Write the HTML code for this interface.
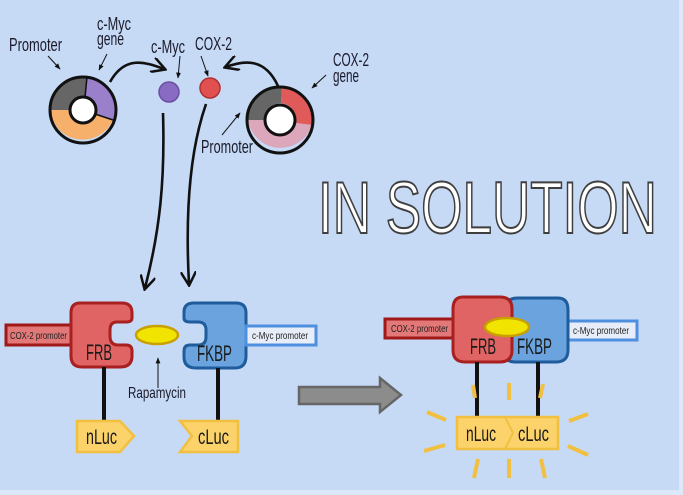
<!DOCTYPE html>
<html><head><meta charset="utf-8"><style>
html,body{margin:0;padding:0;background:#c6d9f5;}
svg{display:block;}
text{font-family:"Liberation Sans",sans-serif;}
</style></head><body>
<svg width="683" height="495" viewBox="0 0 683 495" xmlns="http://www.w3.org/2000/svg">
<defs>
<marker id="ah" viewBox="0 0 10 10" refX="8" refY="5" markerWidth="6" markerHeight="6" orient="auto"><path d="M0,0 L9,5 L0,10" fill="none" stroke="#111" stroke-width="1.6"/></marker>
<marker id="sa" viewBox="0 0 10 10" refX="9" refY="5" markerWidth="6" markerHeight="6" orient="auto"><path d="M0,1 L10,5 L0,9 z" fill="#111"/></marker>
</defs>
<rect width="683" height="495" fill="#c6d9f5"/>
<rect x="679" y="0" width="4" height="495" fill="#dde8f8"/>
<rect x="0" y="490" width="683" height="5" fill="#dde8f8"/>

<g>
<path d="M50,110 A33,33 0 0 1 87,77 L85,97 A13,13 0 0 0 70,110 Z" fill="#666"/>
<path d="M87,77 A33,33 0 0 1 113,120 L95,114 A13,13 0 0 0 85,97 Z" fill="#9a7fcb"/>
<path d="M113,120 A33,33 0 0 1 50,110 L70,110 A13,13 0 0 0 95,114 Z" fill="#f6b06c"/>
<circle cx="83" cy="110" r="33" fill="none" stroke="#111" stroke-width="3"/>
<circle cx="83" cy="110" r="13" fill="#fff" stroke="#111" stroke-width="3"/>
<line x1="87" y1="77" x2="85" y2="97" stroke="#111" stroke-width="1.5"/>
<line x1="113" y1="120" x2="95" y2="114" stroke="#111" stroke-width="1.5"/>
</g>
<g>
<path d="M248,120 A33,33 0 0 1 282,87 L281,103 A17,17 0 0 0 264,120 Z" fill="#666"/>
<path d="M282,87 A33,33 0 0 1 312,125 L296,123 A17,17 0 0 0 281,103 Z" fill="#e05a5a"/>
<path d="M312,125 A33,33 0 0 1 248,120 L264,120 A17,17 0 0 0 296,123 Z" fill="#dca6bb"/>
<circle cx="280" cy="120" r="33" fill="none" stroke="#111" stroke-width="3"/>
<circle cx="280" cy="120" r="15" fill="#fff" stroke="#111" stroke-width="3"/>
</g>
<circle cx="169" cy="92" r="10" fill="#8a6bc4" stroke="#6a50a0" stroke-width="1.5"/>
<circle cx="210" cy="88" r="10" fill="#e05050" stroke="#b03030" stroke-width="1.5"/>
<path d="M110,82 C125,55 145,62 164,69" fill="none" stroke="#111" stroke-width="2.6" marker-end="url(#ah)"/>
<path d="M278,86 C265,58 245,60 226,67" fill="none" stroke="#111" stroke-width="2.6" marker-end="url(#ah)"/>
<path d="M163,113 C165,180 160,230 145,288" fill="none" stroke="#111" stroke-width="2.6" marker-end="url(#ah)"/>
<path d="M206,104 C190,150 185,210 189,284" fill="none" stroke="#111" stroke-width="2.6" marker-end="url(#ah)"/>
<line x1="48" y1="56" x2="60" y2="69" stroke="#111" stroke-width="1" marker-end="url(#sa)"/>
<line x1="107" y1="54" x2="99" y2="70" stroke="#111" stroke-width="1" marker-end="url(#sa)"/>
<line x1="180" y1="56" x2="178" y2="78" stroke="#111" stroke-width="1" marker-end="url(#sa)"/>
<line x1="201" y1="56" x2="208" y2="76" stroke="#111" stroke-width="1" marker-end="url(#sa)"/>
<line x1="326" y1="75" x2="312" y2="88" stroke="#111" stroke-width="1" marker-end="url(#sa)"/>
<line x1="222" y1="135" x2="240" y2="113" stroke="#111" stroke-width="1" marker-end="url(#sa)"/>
<line x1="158" y1="388" x2="158" y2="358" stroke="#111" stroke-width="1" marker-end="url(#sa)"/>

<g font-size="18" fill="#1a1a2a" lengthAdjust="spacingAndGlyphs">
<text x="9" y="51" textLength="53" lengthAdjust="spacingAndGlyphs">Promoter</text>
<text x="97" y="30" textLength="34" lengthAdjust="spacingAndGlyphs">c-Myc</text>
<text x="97" y="45" textLength="27" lengthAdjust="spacingAndGlyphs">gene</text>
<text x="151" y="53" textLength="34" lengthAdjust="spacingAndGlyphs">c-Myc</text>
<text x="195" y="50" textLength="37" lengthAdjust="spacingAndGlyphs">COX-2</text>
<text x="333" y="66" textLength="36" lengthAdjust="spacingAndGlyphs">COX-2</text>
<text x="333" y="82" textLength="26" lengthAdjust="spacingAndGlyphs">gene</text>
<text x="201" y="153" textLength="52" lengthAdjust="spacingAndGlyphs">Promoter</text>
<text x="128" y="398" font-size="16" textLength="58" lengthAdjust="spacingAndGlyphs">Rapamycin</text>
</g>

<text x="318" y="233" font-size="73" textLength="339" lengthAdjust="spacingAndGlyphs" fill="#fff" stroke="#3f3f3f" stroke-width="2">IN SOLUTION</text>

<rect x="6" y="325" width="68" height="20" fill="#e27878" stroke="#a01818" stroke-width="3"/>
<text x="10" y="339" font-size="10" textLength="57" lengthAdjust="spacingAndGlyphs" fill="#222">COX-2 promoter</text>
<path d="M80,303 H122 Q132,303 132,313 V318 Q132,322 126,322 H117 Q110,322 110,330 V336 Q110,345 118,345 H126 Q132,345 132,351 V356 Q132,367 120,367 H82 Q71,367 71,356 V313 Q71,303 80,303 Z" fill="#e06464" stroke="#a82020" stroke-width="3"/>
<text x="86" y="360" font-size="22" textLength="26" lengthAdjust="spacingAndGlyphs" fill="#1a1a1a">FRB</text>
<ellipse cx="157" cy="335" rx="21" ry="9" fill="#f0e400" stroke="#c8a000" stroke-width="2.5"/>
<path d="M194,303 H236 Q246,303 246,313 V356 Q246,368 235,368 H196 Q184,368 184,357 V351 Q184,345 190,345 H198 Q206,345 206,337 V330 Q206,322 198,322 H190 Q184,322 184,318 V312 Q184,303 194,303 Z" fill="#6aa3de" stroke="#1e5c9c" stroke-width="3"/>
<text x="197" y="361" font-size="22" textLength="35" lengthAdjust="spacingAndGlyphs" fill="#1a1a1a">FKBP</text>
<rect x="246" y="326" width="70" height="19" fill="#e8eef9" stroke="#4f8fe0" stroke-width="3"/>
<text x="252" y="339" font-size="10" textLength="56" lengthAdjust="spacingAndGlyphs" fill="#222">c-Myc promoter</text>
<line x1="104" y1="367" x2="104" y2="421" stroke="#111" stroke-width="4"/>
<line x1="218" y1="368" x2="218" y2="421" stroke="#111" stroke-width="4"/>
<path d="M77,421 H120 L134,436 L120,452 H77 Z" fill="#fbd36a" stroke="#f2c040" stroke-width="2.5"/>
<text x="86" y="444" font-size="21" textLength="31" lengthAdjust="spacingAndGlyphs" fill="#1a1a1a">nLuc</text>
<path d="M180,421 H238 V452 H180 L192,436 Z" fill="#fbd36a" stroke="#f2c040" stroke-width="2.5"/>
<text x="198" y="444" font-size="21" textLength="31" lengthAdjust="spacingAndGlyphs" fill="#1a1a1a">cLuc</text>

<path d="M299,387 H380 V378 L401,395 L380,412 V404 H299 Z" fill="#8c8c8c" stroke="#666" stroke-width="2.5"/>

<rect x="385" y="319" width="70" height="19" fill="#e27878" stroke="#a01818" stroke-width="3"/>
<text x="391" y="332" font-size="10" textLength="57" lengthAdjust="spacingAndGlyphs" fill="#222">COX-2 promoter</text>
<rect x="565" y="321" width="72" height="19" fill="#e8eef9" stroke="#4f8fe0" stroke-width="3"/>
<text x="573" y="334" font-size="10" textLength="56" lengthAdjust="spacingAndGlyphs" fill="#222">c-Myc promoter</text>
<path d="M518,298 H558 Q568,298 568,310 V350 Q568,362 556,362 H515 Q505,362 505,352 V310 Q505,298 518,298 Z" fill="#6aa3de" stroke="#1e5c9c" stroke-width="3"/>
<path d="M463,297 H500 Q512,297 512,309 V350 Q512,362 500,362 H465 Q453,362 453,350 V309 Q453,297 463,297 Z" fill="#e06464" stroke="#a82020" stroke-width="3"/>
<ellipse cx="507" cy="327" rx="22" ry="9" fill="#f0e400" stroke="#c8a000" stroke-width="2.5"/>
<text x="470" y="354" font-size="22" textLength="26" lengthAdjust="spacingAndGlyphs" fill="#1a1a1a">FRB</text>
<text x="517" y="354" font-size="22" textLength="35" lengthAdjust="spacingAndGlyphs" fill="#1a1a1a">FKBP</text>
<line x1="477" y1="362" x2="477" y2="417" stroke="#111" stroke-width="4"/>
<line x1="538" y1="362" x2="538" y2="417" stroke="#111" stroke-width="4"/>
<g stroke="#f2c040" stroke-width="4">
<line x1="473" y1="385" x2="475" y2="398"/>
<line x1="509" y1="383" x2="509" y2="400"/>
<line x1="543" y1="384" x2="540" y2="398"/>
<line x1="427" y1="412" x2="446" y2="420"/>
<line x1="424" y1="451" x2="445" y2="445"/>
<line x1="588" y1="414" x2="569" y2="421"/>
<line x1="588" y1="455" x2="568" y2="446"/>
<line x1="478" y1="459" x2="474" y2="478"/>
<line x1="509" y1="459" x2="509" y2="478"/>
<line x1="541" y1="459" x2="545" y2="478"/>
</g>
<rect x="457" y="417" width="101" height="32" fill="#fbd36a" stroke="#f2c040" stroke-width="2.5"/>
<path d="M505,417 L513,433 L505,449" fill="none" stroke="#f2c040" stroke-width="2"/>
<text x="466" y="441" font-size="21" textLength="30" lengthAdjust="spacingAndGlyphs" fill="#1a1a1a">nLuc</text>
<text x="518" y="441" font-size="21" textLength="31" lengthAdjust="spacingAndGlyphs" fill="#1a1a1a">cLuc</text>
</svg>
</body></html>
